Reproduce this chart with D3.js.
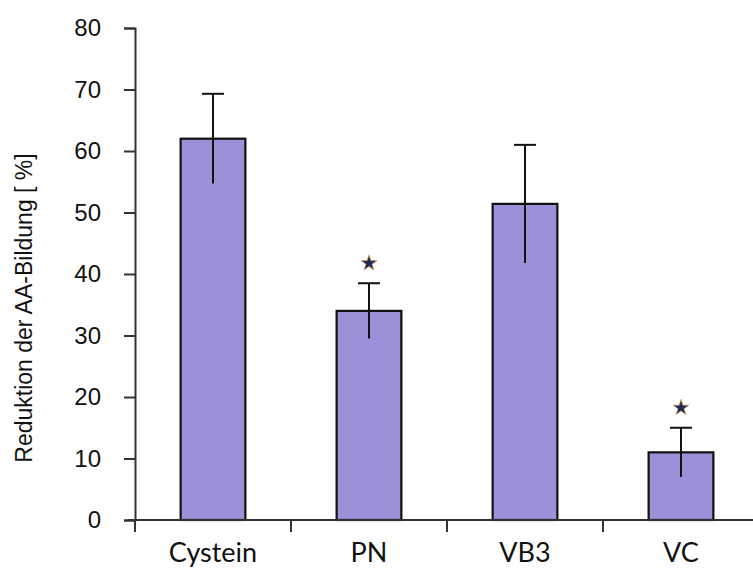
<!DOCTYPE html>
<html>
<head>
<meta charset="utf-8">
<script src="https://cdn.jsdelivr.net/npm/d3@7"></script>
<style>
  body { margin: 0; background: #fff; }
</style>
</head>
<body>
<svg id="chart" width="753" height="575"></svg>
<script>
// values
const categories = ['Cystein', 'PN', 'VB3', 'VC'];
const means = [62, 34, 51.4, 11];
const errors = [7.3, 4.5, 9.6, 4];
const significant = [false, true, false, true];
const yTicks = [0, 10, 20, 30, 40, 50, 60, 70, 80];

const svg = d3.select('#chart');
const x0 = 135, yTop = 28, yBottom = 520;

// one band per category, the last band runs off the right edge like the original
const x = d3.scaleBand()
  .domain(categories)
  .range([x0, x0 + 156 * categories.length])
  .paddingInner(0)
  .paddingOuter(0);

const y = d3.scaleLinear().domain([0, 80]).range([yBottom, yTop]);

const barW = x.bandwidth() * 0.415;

// bars
svg.append('g')
  .selectAll('rect')
  .data(categories)
  .join('rect')
  .attr('x', d => x(d) + (x.bandwidth() - barW) / 2)
  .attr('y', (d, i) => y(means[i]))
  .attr('width', barW)
  .attr('height', (d, i) => y(0) - y(means[i]))
  .attr('fill', '#9c90d8')
  .attr('stroke', '#111')
  .attr('stroke-width', 2.2);

// error bars
const err = svg.append('g').attr('stroke', '#111').attr('stroke-width', 2);
categories.forEach((c, i) => {
  const cx = x(c) + x.bandwidth() / 2;
  err.append('line')
    .attr('x1', cx).attr('x2', cx)
    .attr('y1', y(means[i] - errors[i])).attr('y2', y(means[i] + errors[i]));
  err.append('line')
    .attr('x1', cx - 11).attr('x2', cx + 11)
    .attr('y1', y(means[i] + errors[i])).attr('y2', y(means[i] + errors[i]));
});

// significance stars
const star = d3.symbol().type(d3.symbolStar).size(80);
categories.forEach((c, i) => {
  if (!significant[i]) return;
  const cx = x(c) + x.bandwidth() / 2;
  svg.append('path')
    .attr('d', star)
    .attr('transform', `translate(${cx},${y(means[i] + errors[i]) - 20})`)
    .attr('fill', '#1d2a55')
    .attr('stroke', '#e0a060')
    .attr('stroke-width', 0.7);
});

// y axis
const yAxis = svg.append('g')
  .attr('transform', `translate(${x0},0)`)
  .call(d3.axisLeft(y).tickValues(yTicks).tickSize(11).tickPadding(23).tickSizeOuter(11));
yAxis.select('.domain').attr('stroke', '#333').attr('stroke-width', 2);
yAxis.selectAll('.tick line').attr('stroke', '#333').attr('stroke-width', 2);
yAxis.selectAll('.tick text')
  .attr('font-family', '"Liberation Sans", Arial, sans-serif')
  .attr('font-size', 24)
  .attr('fill', '#111');

// x axis
const xAxisG = svg.append('g').attr('transform', `translate(0,${yBottom})`);
xAxisG.append('line')
  .attr('x1', x0 - 7).attr('x2', 753)
  .attr('stroke', '#333').attr('stroke-width', 2);
xAxisG.selectAll('line.tk')
  .data(categories)
  .join('line')
  .attr('class', 'tk')
  .attr('x1', d => x(d)).attr('x2', d => x(d))
  .attr('y1', 0).attr('y2', 12)
  .attr('stroke', '#333').attr('stroke-width', 2);
xAxisG.selectAll('text')
  .data(categories)
  .join('text')
  .attr('x', d => x(d) + x.bandwidth() / 2)
  .attr('y', 42)
  .attr('text-anchor', 'middle')
  .attr('font-family', 'Lato, "Open Sans", sans-serif')
  .attr('font-size', 27)
  .attr('fill', '#111')
  .text(d => d);

// y axis title
svg.append('text')
  .attr('transform', 'translate(32,308) rotate(-90)')
  .attr('text-anchor', 'middle')
  .attr('font-family', '"Liberation Sans", Arial, sans-serif')
  .attr('font-size', 23)
  .attr('fill', '#111')
  .text('Reduktion der AA-Bildung [ %]');
</script>
</body>
</html>
